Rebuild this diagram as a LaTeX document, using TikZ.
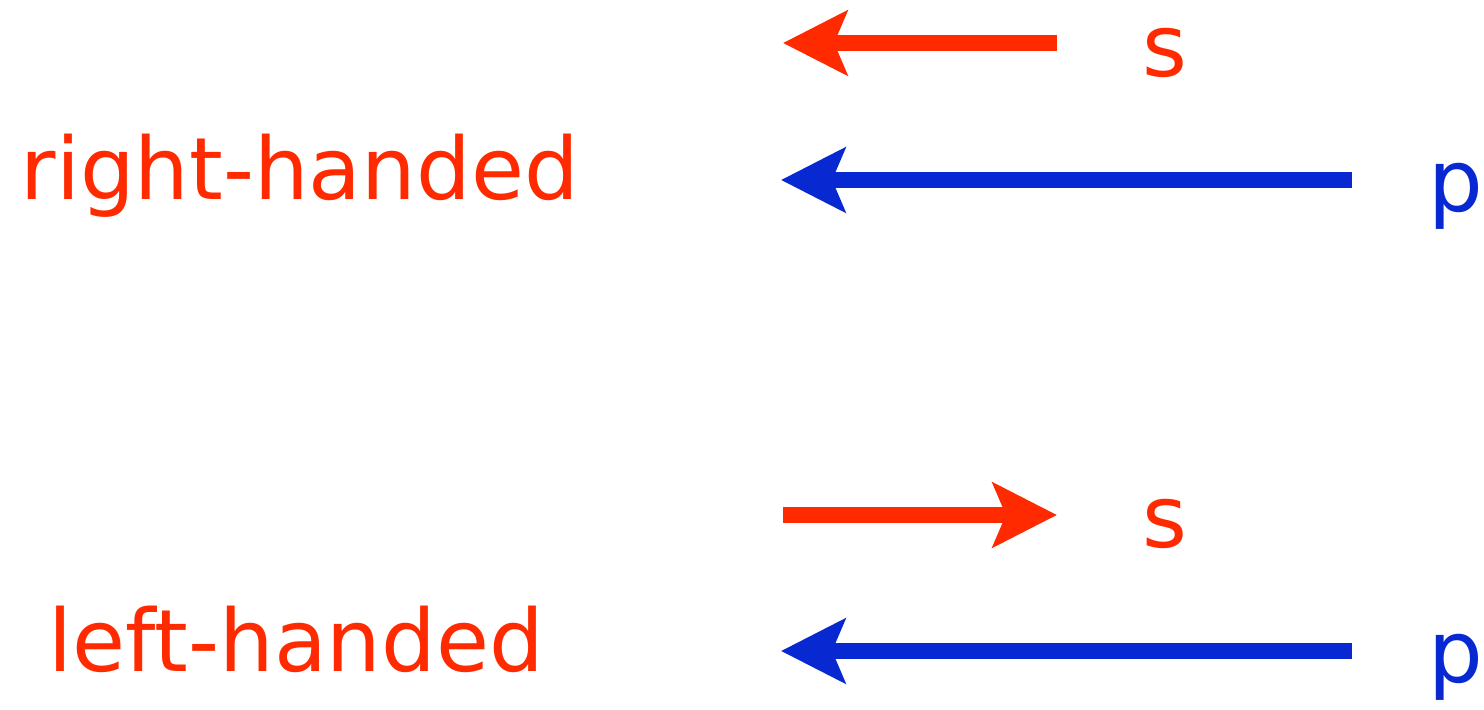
\documentclass[tikz,border=0pt]{standalone}
\usepackage{fontspec}
\setmainfont{DejaVu Sans}
\usetikzlibrary{arrows.meta}
\definecolor{spinred}{RGB}{255,42,0}
\definecolor{momblue}{RGB}{8,40,210}
\tikzset{
  vec/.style={line width=0.165cm,-{Stealth[length=0.64cm,width=0.64cm,inset=0.13cm]}},
  spinvec/.style={vec,draw=spinred},
  momvec/.style={vec,draw=momblue},
  lbl/.style={inner sep=0pt,font=\fontsize{24.5pt}{29pt}\selectfont},
}
\begin{document}
\begin{tikzpicture}[x=0.01cm,y=-0.01cm]
  \useasboundingbox (0,0) rectangle (1484,710);
  \clip (0,0) rectangle (1484,710);
  % right-handed: spin and momentum both point left
  \node[lbl,text=spinred,anchor=base west] (rh) at (20,200) {right-handed};
  \coordinate (s1tail) at (1057,43);
  \coordinate (s1tip) at (783,43);
  \draw[spinvec] (s1tail) -- (s1tip);
  \node[lbl,text=spinred,anchor=base] (s1) at (1165,77) {s};
  \coordinate (p1tail) at (1352,180);
  \coordinate (p1tip) at (781,180);
  \draw[momvec] (p1tail) -- (p1tip);
  \node[lbl,text=momblue,anchor=base west] (p1) at (1428,212) {p};
  % left-handed: spin points right, momentum points left
  \node[lbl,text=spinred,anchor=base west] (lh) at (48,672) {left-handed};
  \coordinate (s2tail) at (783,515);
  \coordinate (s2tip) at (1057,515);
  \draw[spinvec] (s2tail) -- (s2tip);
  \node[lbl,text=spinred,anchor=base] (s2) at (1165,548) {s};
  \coordinate (p2tail) at (1352,651);
  \coordinate (p2tip) at (781,651);
  \draw[momvec] (p2tail) -- (p2tip);
  \node[lbl,text=momblue,anchor=base west] (p2) at (1428,683) {p};
\end{tikzpicture}
\end{document}
